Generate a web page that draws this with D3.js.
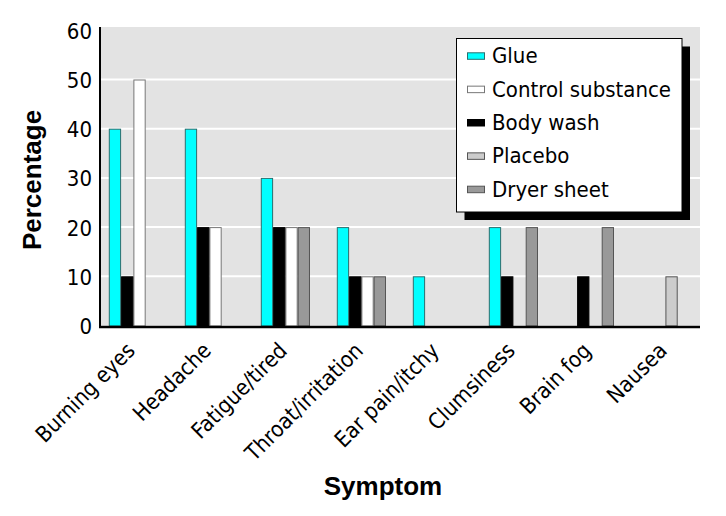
<!DOCTYPE html>
<html>
<head>
<meta charset="utf-8">
<script src="https://cdn.jsdelivr.net/npm/d3@7/dist/d3.min.js"></script>
<style>
  html, body { margin: 0; padding: 0; background: #fff; }
  svg { display: block; }
  text { font-family: "DejaVu Sans Condensed", "DejaVu Sans", sans-serif; font-stretch: condensed; fill: #000; }
  .title { font-family: "Liberation Sans", Arial, sans-serif; font-stretch: normal; }
</style>
</head>
<body>
<svg id="chart" width="726" height="516"></svg>
<script>
// ---- data ----
const categories = ["Burning eyes", "Headache", "Fatigue/tired", "Throat/irritation",
                    "Ear pain/itchy", "Clumsiness", "Brain fog", "Nausea"];
const seriesNames = ["Glue", "Control substance", "Body wash", "Placebo", "Dryer sheet"];
const glue     = [40, 40, 30, 20, 10, 20, 0, 0];
const control  = [50, 20, 20, 10, 0, 0, 0, 0];
const bodyWash = [10, 20, 20, 10, 0, 10, 10, 0];
const placebo  = [0, 0, 0, 0, 0, 0, 0, 10];
const dryer    = [0, 0, 20, 10, 0, 20, 20, 0];
const yTicks   = [0, 10, 20, 30, 40, 50, 60];

// ---- styles / layout ----
const seriesValues = [glue, control, bodyWash, placebo, dryer];
const colors = {"Glue": "#00ffff", "Control substance": "#ffffff", "Body wash": "#000000",
                "Placebo": "#cccccc", "Dryer sheet": "#999999"};
const strokes = {"Glue": "#2a6f6f", "Control substance": "#777777", "Body wash": "#000000",
                 "Placebo": "#555555", "Dryer sheet": "#555555"};
// bar slot within each group (control substance and placebo share a slot)
const slotOf = {"Glue": "a", "Body wash": "b", "Control substance": "c", "Placebo": "c", "Dryer sheet": "d"};

const svg = d3.select("#chart");
const plotLeft = 100, plotRight = 700, plotTop = 27;

const y = d3.scaleLinear().domain([0, 60]).range([325.5, 30.3]);
const x0 = d3.scaleBand().domain(categories).range([108.8, 690]).paddingInner(0.353).paddingOuter(0);
const x1 = d3.scaleBand().domain(["a", "b", "c", "d"]).range([0, x0.bandwidth()]);

// plot background
svg.append("rect")
  .attr("x", plotLeft).attr("y", plotTop)
  .attr("width", plotRight - plotLeft).attr("height", y(0) - plotTop)
  .attr("fill", "#e3e3e3");

// gridlines
svg.append("g").selectAll("line")
  .data(yTicks.filter(d => d > 0 && d < 60))
  .join("line")
  .attr("x1", plotLeft).attr("x2", plotRight)
  .attr("y1", d => y(d)).attr("y2", d => y(d))
  .attr("stroke", "#ffffff").attr("stroke-width", 2);

// bars
const barData = [];
categories.forEach((c, i) => {
  seriesNames.forEach((s, j) => {
    const v = seriesValues[j][i];
    if (v > 0) barData.push({cat: c, series: s, value: v});
  });
});
svg.append("g").selectAll("rect")
  .data(barData)
  .join("rect")
  .attr("x", d => x0(d.cat) + x1(slotOf[d.series]) + 0.5)
  .attr("y", d => y(d.value) + 0.5)
  .attr("width", x1.bandwidth() - 1)
  .attr("height", d => y(0) - y(d.value))
  .attr("fill", d => colors[d.series])
  .attr("stroke", d => strokes[d.series])
  .attr("stroke-width", 1);

// y axis
const yAxis = d3.axisLeft(y).tickValues(yTicks).tickSize(0).tickPadding(8);
const gy = svg.append("g").attr("transform", `translate(${plotLeft},0)`).call(yAxis);
gy.select(".domain").remove();
gy.selectAll("text").style("font-size", "22px").style("font-family", null).attr("dy", "0.36em");
svg.append("line")
  .attr("x1", plotLeft).attr("x2", plotLeft)
  .attr("y1", plotTop).attr("y2", y(0) + 2)
  .attr("stroke", "#000").attr("stroke-width", 2);

// x axis
const xAxis = d3.axisBottom(x0).tickSize(0).tickPadding(0);
const gx = svg.append("g").attr("transform", `translate(0,${y(0) + 1.5})`).call(xAxis);
gx.select(".domain").remove();
gx.selectAll("text")
  .style("font-size", "22px").style("font-family", null)
  .attr("text-anchor", "end")
  .attr("dy", null).attr("y", 0)
  .attr("transform", d => `translate(3,25) rotate(-45)`);
svg.append("line")
  .attr("x1", plotLeft - 1).attr("x2", plotRight)
  .attr("y1", y(0) + 1.5).attr("y2", y(0) + 1.5)
  .attr("stroke", "#000").attr("stroke-width", 2.5);

// axis titles
svg.append("text").attr("class", "title")
  .attr("x", 383).attr("y", 495)
  .attr("text-anchor", "middle")
  .style("font-size", "26px").style("font-weight", "bold")
  .text("Symptom");
svg.append("text").attr("class", "title")
  .attr("transform", "translate(41,180) rotate(-90)")
  .attr("text-anchor", "middle")
  .style("font-size", "26px").style("font-weight", "bold")
  .text("Percentage");

// legend
const lgX = 456.5, lgY = 38.5, lgW = 225.5, lgH = 173.5, shadow = 8;
const lg = svg.append("g");
lg.append("rect").attr("x", lgX + shadow).attr("y", lgY + shadow)
  .attr("width", lgW).attr("height", lgH).attr("fill", "#000");
lg.append("rect").attr("x", lgX).attr("y", lgY)
  .attr("width", lgW).attr("height", lgH)
  .attr("fill", "#fff").attr("stroke", "#000").attr("stroke-width", 1);
const rowH = 33.35;
const items = lg.selectAll("g.item").data(seriesNames).join("g")
  .attr("class", "item")
  .attr("transform", (d, i) => `translate(0,${63.3 + i * rowH})`);
items.append("rect")
  .attr("x", 467.5).attr("y", -10.5)
  .attr("width", 17).attr("height", 6.5)
  .attr("fill", d => colors[d]).attr("stroke", d => strokes[d]).attr("stroke-width", 1);
items.append("text")
  .attr("x", 492).attr("y", 0)
  .style("font-size", "22px")
  .text(d => d);
</script>
</body>
</html>
